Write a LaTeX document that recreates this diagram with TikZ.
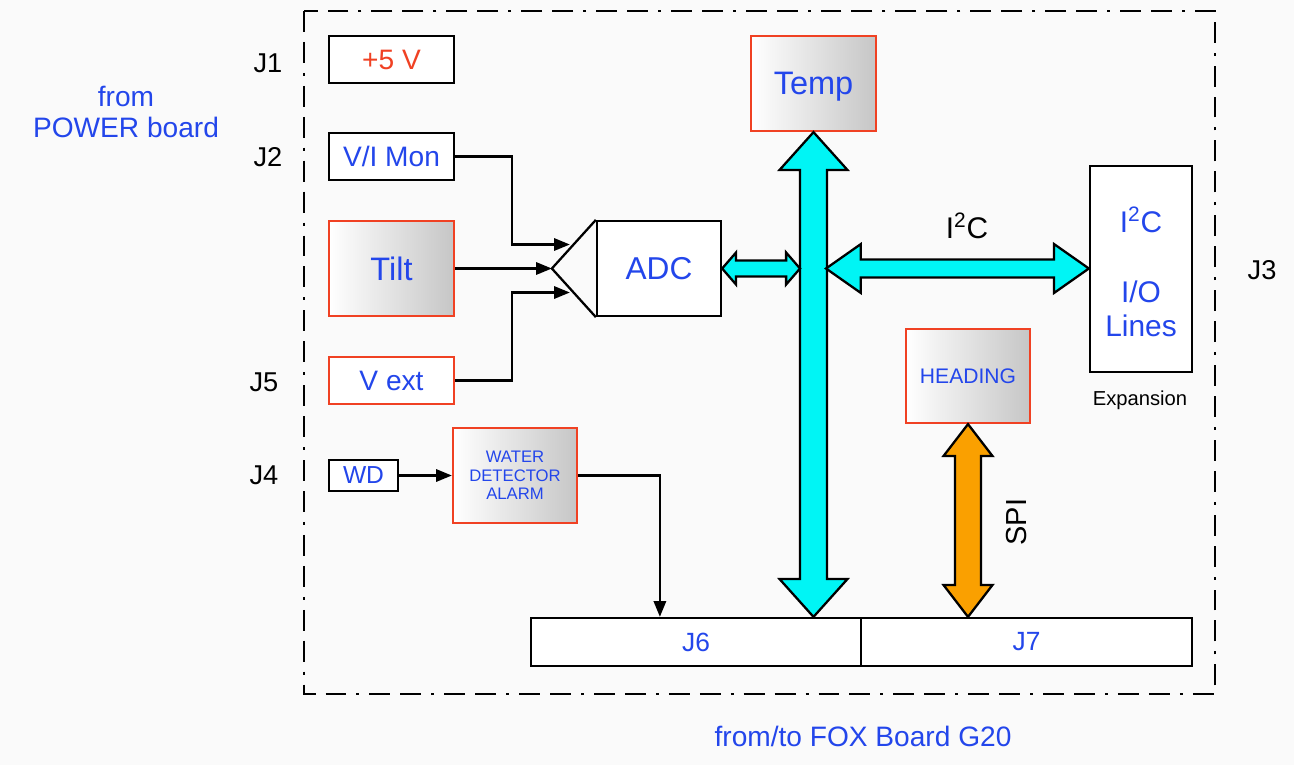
\documentclass[tikz,border=0pt]{standalone}
\usepackage{fontspec}
\setmainfont{Liberation Sans}
\usetikzlibrary{arrows.meta,calc}
\definecolor{tblue}{RGB}{35,70,235}
\definecolor{tred}{RGB}{240,65,35}
\definecolor{tcyan}{RGB}{0,245,245}
\definecolor{torange}{RGB}{250,160,0}
\definecolor{bgc}{RGB}{250,250,250}
\definecolor{gshade}{RGB}{198,198,198}
\newcommand\fs[1]{\fontsize{#1}{#1}\selectfont}
% vertical fat double arrow: #1 top anchor, #2 anchor giving bottom y, #3 half shaft, #4 half head, #5 head length, #6 colour
\newcommand\vfat[6]{%
\draw[fill=#6, line width=1.3pt, line join=miter] let \p1=(#1), \p2=(#2) in
 (\x1,\y1) -- (\x1+#4,\y1-#5) -- (\x1+#3,\y1-#5) -- (\x1+#3,\y2+#5) -- (\x1+#4,\y2+#5) -- (\x1,\y2)
 -- (\x1-#4,\y2+#5) -- (\x1-#3,\y2+#5) -- (\x1-#3,\y1-#5) -- (\x1-#4,\y1-#5) -- cycle;}
% horizontal fat double arrow: #1 left anchor, #2 right anchor
\newcommand\hfat[6]{%
\draw[fill=#6, line width=1.3pt, line join=miter] let \p1=(#1), \p2=(#2) in
 (\x1,\y1) -- (\x1+#5,\y1+#4) -- (\x1+#5,\y1+#3) -- (\x2-#5,\y1+#3) -- (\x2-#5,\y1+#4) -- (\x2,\y1)
 -- (\x2-#5,\y1-#4) -- (\x2-#5,\y1-#3) -- (\x1+#5,\y1-#3) -- (\x1+#5,\y1-#4) -- cycle;}
\tikzset{
 box/.style={draw=black, line width=1.3pt, fill=white, minimum width=2.5cm, minimum height=0.94cm,
   inner sep=0pt, text=tblue, font=\fs{16}, align=center},
 gbox/.style={box, draw=tred, left color=white, right color=gshade},
 rbox/.style={box, draw=tred},
 wire/.style={line width=1.3pt, -{Triangle[length=9pt,width=7pt]}},
 plainline/.style={line width=1.3pt},
 jlbl/.style={font=\fs{15.5}, text=black},
 frameline/.style={line width=1.3pt, dash pattern=on 11.9pt off 5.7pt on 11.9pt off 5.7pt on 1.7pt off 5.7pt},
}
\begin{document}
\begin{tikzpicture}[x=0.02cm,y=-0.02cm]
\fill[bgc] (0,0) rectangle (1294,765);
\useasboundingbox (0,0) rectangle (1294,765);
\draw[frameline] (304,11) rectangle (1215,694);

% left column
\node[box, text=tred] (p5v) at (391.5,59.5) {+5 V};
\node[box] (vimon) at (391.5,156.5) {V/I Mon};
\node[gbox, minimum height=1.9cm, font=\fs{18.5}] (tilt) at (391.5,268.5) {Tilt};
\node[rbox] (vext) at (391.5,380.5) {V ext};
\node[box, minimum width=1.38cm, minimum height=0.62cm, font=\fs{14}] (wd) at (363.5,475.5) {WD};
\node[gbox, minimum width=2.48cm, minimum height=1.9cm, font=\fs{9.5}] (wda) at (515,475.5)
  {WATER\\[1pt]DETECTOR\\[1pt]ALARM};

% ADC
\node[box, minimum width=2.48cm, minimum height=1.9cm, font=\fs{18}] (adc) at (659,268.5) {ADC};
\coordinate (adcin) at ($(adc.west)+(-44,0)$);
\coordinate (adcA) at ($(adc.west)+(-26,-24)$);
\coordinate (adcB) at ($(adc.west)+(-26,24)$);
\draw[plainline] (adc.north west) -- (adcin) -- (adc.south west);

% Temp, heading, I2C box
\node[gbox, minimum height=1.9cm, text depth=0pt, font=\fs{18.5}] (temp) at (813.5,83.5) {Temp};
\node[gbox, minimum width=2.48cm, minimum height=1.88cm, font=\fs{12}] (heading) at (968,376) {HEADING};
\node[box, minimum width=2.04cm, minimum height=4.12cm] (i2cbox) at (1141,269) {};
\node[text=tblue, font=\fs{17}] (i2ct) at (1141,220) {I\textsuperscript{2}C};
\node[text=tblue, font=\fs{17}, align=center] (iot) at (1141,309) {I/O\\[2pt]Lines};
\node[font=\fs{11.5}] (expn) at (1140,400) {Expansion};

% J6 / J7
\node[box, minimum width=6.6cm, minimum height=0.96cm, font=\fs{15}] (j6) at (696,642) {J6};
\node[box, minimum width=6.62cm, minimum height=0.96cm, font=\fs{15}] (j7) at (1026.5,642) {J7};
\coordinate (j6in) at ($(j6.north west)+(130,0)$);

% thin wires
\draw[wire] (vimon.east) -| ($(adcA)+(-58,0)$) -- (adcA);
\draw[wire] (tilt.east) -- (adcin);
\draw[wire] (vext.east) -| ($(adcB)+(-58,0)$) -- (adcB);
\draw[wire] (wd.east) -- (wda.west);
\draw[wire] (wda.east) -| (j6in);

% fat arrows
\coordinate (busW) at (800,268.5);
\coordinate (busE) at (826,268.5);
\vfat{temp.south}{j6.north}{7.65pt}{19.3pt}{21.5pt}{tcyan}
\hfat{adc.east}{busW}{4.6pt}{9.1pt}{7.9pt}{tcyan}
\hfat{busE}{i2cbox.west}{5.1pt}{13.9pt}{19.8pt}{tcyan}
\vfat{heading.south}{j7.north}{7.4pt}{13.9pt}{18.1pt}{torange}

% labels
\node[font=\fs{17}] (i2cl) at (967,226) {I\textsuperscript{2}C};
\node[font=\fs{16.5}, rotate=90] (spi) at (1017,522) {SPI};
\node[jlbl] (j1) at (268,63) {J1};
\node[jlbl] (j2) at (268,157) {J2};
\node[jlbl] (j5) at (264,382) {J5};
\node[jlbl] (j4) at (264,475) {J4};
\node[jlbl] (j3) at (1262,270) {J3};
\node[text=tblue, font=\fs{16}, align=center] (pwr) at (126,112) {from\\[2pt]POWER board};
\node[text=tblue, font=\fs{16}] (fox) at (863,736) {from/to FOX Board G20};
\end{tikzpicture}
\end{document}
